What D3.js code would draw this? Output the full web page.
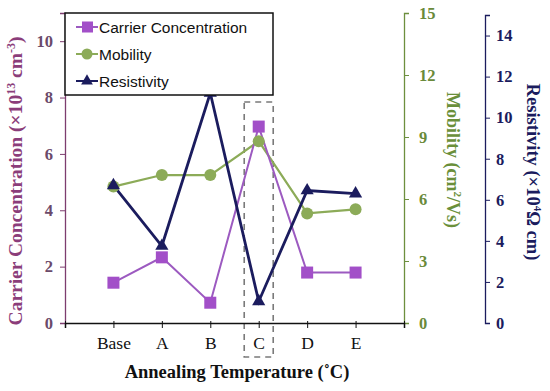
<!DOCTYPE html>
<html><head><meta charset="utf-8">
<script src="https://cdn.jsdelivr.net/npm/d3@7"></script>
<style>body{margin:0;background:#fff}svg{display:block}</style>
</head><body>
<script>
const categories = ["Base","A","B","C","D","E"];
const carrier = [1.43, 2.33, 0.72, 6.97, 1.79, 1.79];
const mobility = [6.6, 7.16, 7.16, 8.8, 5.3, 5.5];
const resistivity = [6.7, 3.75, 11.2, 1.05, 6.45, 6.3];
const carrierTicks = [0,2,4,6,8,10];
const mobilityTicks = [0,3,6,9,12,15];
const resistTicks = [0,2,4,6,8,10,12,14];

const W=550,H=391;
const svg=d3.select("body").append("svg").attr("width",W).attr("height",H);
const x0=65,x1=404,yTop=13,yBot=323,xR=485;
const x=d3.scaleLinear().domain([0,7]).range([x0,x1]);
const yC=d3.scaleLinear().domain([0,11]).range([yBot,yTop]);
const yM=d3.scaleLinear().domain([0,15]).range([yBot,yTop]);
const yR=d3.scaleLinear().domain([0,15]).range([yBot,yTop+2]);

const cPurple="#9c5ac0", cPurpleFill="#a24fc8", cGreen="#8cab58", cNavy="#1b1c5e";
const cLeftAxis="#7d3d6f", cGreenAxis="#6d8f3e";
const serif="'Liberation Serif','Times New Roman',serif";
const sans="'Liberation Sans',Arial,sans-serif";

// dashed highlight box around C
svg.append("rect").attr("x",x(4)-14.5).attr("y",102).attr("width",29).attr("height",255)
  .attr("fill","none").attr("stroke","#7a7a7a").attr("stroke-width",1.6).attr("stroke-dasharray","6,5");

// left axis
const gL=svg.append("g").attr("transform",`translate(${x0},0)`)
  .call(d3.axisLeft(yC).tickValues(carrierTicks).tickSize(5).tickPadding(7).tickFormat(d3.format("d")));
gL.select(".domain").attr("stroke",cLeftAxis).attr("stroke-width",1.3);
gL.selectAll(".tick line").attr("stroke",cLeftAxis);
gL.selectAll(".tick text").attr("fill","#6b4a6a").style("font-family",serif).style("font-size","16.5px").style("font-weight","bold");

// mobility axis
const gM=svg.append("g").attr("transform",`translate(${x1},0)`)
  .call(d3.axisRight(yM).tickValues(mobilityTicks).tickSize(5).tickPadding(10).tickFormat(d3.format("d")));
gM.select(".domain").attr("stroke",cGreenAxis).attr("stroke-width",1.3);
gM.selectAll(".tick line").attr("stroke",cGreenAxis);
gM.selectAll(".tick text").attr("fill","#6a8a3a").style("font-family",serif).style("font-size","16.5px").style("font-weight","bold");

// resistivity axis
const gR=svg.append("g").attr("transform",`translate(${xR},0)`)
  .call(d3.axisRight(yR).tickValues(resistTicks).tickSize(5).tickPadding(6).tickFormat(d3.format("d")));
gR.select(".domain").attr("stroke",cNavy).attr("stroke-width",1.3);
gR.selectAll(".tick line").attr("stroke",cNavy);
gR.selectAll(".tick text").attr("fill",cNavy).style("font-family",serif).style("font-size","16.5px").style("font-weight","bold");

// bottom axis
const gB=svg.append("g").attr("transform",`translate(0,${yBot})`)
  .call(d3.axisBottom(x).tickValues(d3.range(0,8)).tickSize(5).tickPadding(9)
    .tickFormat(d=> (d>=1&&d<=6)?categories[d-1]:""));
gB.select(".domain").attr("stroke","#111").attr("stroke-width",1.5);
gB.selectAll(".tick line").attr("stroke","#111").attr("y1",-2);
gB.selectAll(".tick text").attr("fill","#111").style("font-family",serif).style("font-size","17.5px");

// lines
const xi=(d,i)=>x(i+1);
function series(data,scale,color,w){
  svg.append("path").datum(data).attr("fill","none").attr("stroke",color).attr("stroke-width",w)
    .attr("d",d3.line().x(xi).y(d=>scale(d)));
}
series(mobility,yM,cGreen,2.2);
series(carrier,yC,cPurple,2);
series(resistivity,yR,cNavy,2.8);

// markers
svg.selectAll(".mc").data(mobility).join("circle").attr("cx",xi).attr("cy",d=>yM(d)).attr("r",6).attr("fill",cGreen);
svg.selectAll(".cc").data(carrier).join("rect").attr("x",(d,i)=>xi(d,i)-6).attr("y",d=>yC(d)-6)
  .attr("width",12).attr("height",12).attr("fill",cPurpleFill);
const tri=d3.symbol().type(d3.symbolTriangle).size(75);
svg.selectAll(".rt").data(resistivity).join("path").attr("d",tri)
  .attr("transform",(d,i)=>`translate(${xi(d,i)},${yR(d)})`).attr("fill",cNavy);

// legend
const lg=svg.append("g");
lg.append("rect").attr("x",x0).attr("y",yTop).attr("width",208).attr("height",82).attr("fill","#fff").attr("stroke","#111").attr("stroke-width",1.5);
const legendItems=[
  {label:"Carrier Concentration",color:cPurple,fill:cPurpleFill,shape:"square",y:27},
  {label:"Mobility",color:cGreen,fill:cGreen,shape:"circle",y:54},
  {label:"Resistivity",color:cNavy,fill:cNavy,shape:"triangle",y:81}
];
legendItems.forEach(it=>{
  lg.append("line").attr("x1",76).attr("x2",98).attr("y1",it.y).attr("y2",it.y).attr("stroke",it.color).attr("stroke-width",2);
  if(it.shape==="square") lg.append("rect").attr("x",82).attr("y",it.y-5.5).attr("width",11).attr("height",11).attr("fill",it.fill);
  else if(it.shape==="circle") lg.append("circle").attr("cx",87).attr("cy",it.y).attr("r",5.5).attr("fill",it.fill);
  else lg.append("path").attr("d",d3.symbol().type(d3.symbolTriangle).size(60)).attr("transform",`translate(87,${it.y})`).attr("fill",it.fill);
  lg.append("text").attr("x",99).attr("y",it.y).attr("dy","0.36em").text(it.label)
    .style("font-family",sans).style("font-size","15.5px").attr("fill","#111");
});

// axis titles
const lt=svg.append("text").attr("transform","translate(22,181) rotate(-90)").attr("text-anchor","middle")
  .style("font-family",serif).style("font-size","19.5px").style("font-weight","bold").attr("fill","#8b3d7a");
lt.append("tspan").text("Carrier  Concentration (×10");
lt.append("tspan").text("13").attr("dy","-7").style("font-size","12px");
lt.append("tspan").text(" cm").attr("dy","7");
lt.append("tspan").text("-3").attr("dy","-7").style("font-size","12px");
lt.append("tspan").text(")").attr("dy","7");

const mt=svg.append("text").attr("transform","translate(447,160) rotate(90)").attr("text-anchor","middle")
  .style("font-family",serif).style("font-size","18px").style("font-weight","bold").attr("fill","#6a8f3a");
mt.append("tspan").text("Mobility (cm");
mt.append("tspan").text("2").attr("dy","-7").style("font-size","11px");
mt.append("tspan").text("/Vs)").attr("dy","7");

const rt=svg.append("text").attr("transform","translate(527,172) rotate(90)").attr("text-anchor","middle")
  .style("font-family",serif).style("font-size","18.5px").style("font-weight","bold").attr("fill",cNavy);
rt.append("tspan").text("Resistivity (×10");
rt.append("tspan").text("4").attr("dy","-7").style("font-size","11px");
rt.append("tspan").text("Ω cm)").attr("dy","7");

svg.append("text").attr("x",237).attr("y",378).attr("text-anchor","middle")
  .style("font-family",serif).style("font-size","18.5px").style("font-weight","bold").attr("fill","#111")
  .text("Annealing Temperature (˚C)");
</script>
</body></html>
